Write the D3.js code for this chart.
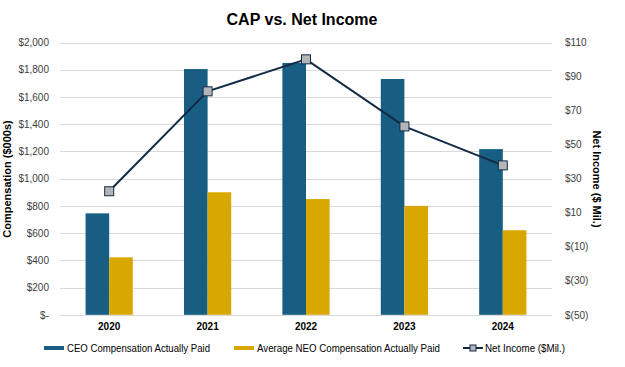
<!DOCTYPE html>
<html><head><meta charset="utf-8">
<script src="https://cdn.jsdelivr.net/npm/d3@7"></script>
<style>body{margin:0;background:#fff;}svg{display:block;font-family:"Liberation Sans",Arial,sans-serif;}</style>
</head><body>
<svg id="c" width="625" height="367"></svg>
<script>
const years = ["2020","2021","2022","2023","2024"];
const ceoCap = [745, 1805, 1850, 1732, 1217];
const neoCap = [422, 900, 850, 800, 621];
const netIncome = [22.6, 81.3, 100.1, 60.7, 37.8];
const leftTicks = [0,200,400,600,800,1000,1200,1400,1600,1800,2000];
const rightTicks = [-50,-30,-10,10,30,50,70,90,110];
const seriesNames = ["CEO Compensation Actually Paid","Average NEO Compensation Actually Paid","Net Income ($Mil.)"];

const svg = d3.select("#c");
const L = 60, R = 552, T = 42.5, B = 314.8;
const x = d3.scaleBand().domain(years).range([L, R]).paddingInner(0).paddingOuter(0);
const yL = d3.scaleLinear().domain([0, 2000]).range([B, T]);
const yR = d3.scaleLinear().domain([-50, 110]).range([B, T]);
const cw = x.bandwidth();
const bw = cw * 0.24;
const ceoColor = "#175e82", neoColor = "#d9a800", lineColor = "#132b45";

// gridlines
svg.append("g").selectAll("line").data(leftTicks).join("line")
  .attr("x1", L).attr("x2", R)
  .attr("y1", d => Math.round(yL(d)) + 0.5).attr("y2", d => Math.round(yL(d)) + 0.5)
  .attr("stroke", "#d9d9d9").attr("stroke-width", 1);

// left axis
const fmtL = d => d === 0 ? "$-" : "$" + d3.format(",")(d);
const gL = svg.append("g").attr("transform", `translate(${L - 11},0)`)
  .call(d3.axisLeft(yL).tickValues(leftTicks).tickFormat(fmtL).tickSize(0).tickPadding(0));
gL.select(".domain").remove();
gL.selectAll("text").attr("font-size", 10).attr("fill", "#404040").attr("font-family", "Liberation Sans, Arial");

// right axis
const fmtR = d => d < 0 ? "$(" + Math.abs(d) + ")" : "$" + d;
const gR = svg.append("g").attr("transform", `translate(${R + 13},0)`)
  .call(d3.axisRight(yR).tickValues(rightTicks).tickFormat(fmtR).tickSize(0).tickPadding(0));
gR.select(".domain").remove();
gR.selectAll("text").attr("font-size", 10).attr("fill", "#404040").attr("font-family", "Liberation Sans, Arial");

// bars
svg.append("g").selectAll("rect").data(years).join("rect")
  .attr("x", d => x(d) + cw / 2 - bw).attr("width", bw)
  .attr("y", (d, i) => yL(ceoCap[i])).attr("height", (d, i) => B - yL(ceoCap[i]))
  .attr("fill", ceoColor);
svg.append("g").selectAll("rect").data(years).join("rect")
  .attr("x", d => x(d) + cw / 2).attr("width", bw)
  .attr("y", (d, i) => yL(neoCap[i])).attr("height", (d, i) => B - yL(neoCap[i]))
  .attr("fill", neoColor);

// line
const line = d3.line().x((d, i) => x(years[i]) + cw / 2).y(d => yR(d));
svg.append("path").datum(netIncome).attr("d", line)
  .attr("fill", "none").attr("stroke", lineColor).attr("stroke-width", 2);
svg.append("g").selectAll("rect").data(netIncome).join("rect")
  .attr("x", (d, i) => x(years[i]) + cw / 2 - 4.5).attr("y", d => yR(d) - 4.5)
  .attr("width", 9).attr("height", 9)
  .attr("fill", "#b3b5b9").attr("stroke", lineColor).attr("stroke-width", 1);

// x labels
svg.append("g").selectAll("text").data(years).join("text")
  .attr("x", d => x(d) + cw / 2).attr("y", 330)
  .attr("text-anchor", "middle").attr("font-size", 10).attr("font-weight", "bold")
  .attr("fill", "#000").text(d => d);

// title
svg.append("text").attr("x", 302).attr("y", 25).attr("text-anchor", "middle")
  .attr("font-size", 16).attr("font-weight", "bold").attr("fill", "#000").text("CAP vs. Net Income");

// axis titles
svg.append("text").attr("transform", "translate(11,179) rotate(-90)").attr("text-anchor", "middle")
  .attr("font-size", 11).attr("font-weight", "bold").attr("fill", "#000").text("Compensation ($000s)");
svg.append("text").attr("transform", "translate(593,179) rotate(90)").attr("text-anchor", "middle")
  .attr("font-size", 11).attr("font-weight", "bold").attr("fill", "#000").text("Net Income ($ Mil.)");

// legend
const ly = 348;
const lg = svg.append("g").attr("font-size", 10).attr("fill", "#000");
lg.append("rect").attr("x", 44).attr("y", ly - 2).attr("width", 20).attr("height", 4).attr("fill", ceoColor);
lg.append("text").attr("x", 67).attr("y", ly + 3.5).attr("textLength", 143).attr("lengthAdjust", "spacingAndGlyphs").text(seriesNames[0]);
lg.append("rect").attr("x", 234).attr("y", ly - 2).attr("width", 20).attr("height", 4).attr("fill", neoColor);
lg.append("text").attr("x", 257).attr("y", ly + 3.5).attr("textLength", 183).attr("lengthAdjust", "spacingAndGlyphs").text(seriesNames[1]);
lg.append("line").attr("x1", 463).attr("x2", 483).attr("y1", ly).attr("y2", ly).attr("stroke", lineColor).attr("stroke-width", 2);
lg.append("rect").attr("x", 470).attr("y", ly - 3).attr("width", 6).attr("height", 6).attr("fill", "#b3b5b9").attr("stroke", lineColor).attr("stroke-width", 1);
lg.append("text").attr("x", 485).attr("y", ly + 3.5).attr("textLength", 80).attr("lengthAdjust", "spacingAndGlyphs").text(seriesNames[2]);
</script>
</body></html>
